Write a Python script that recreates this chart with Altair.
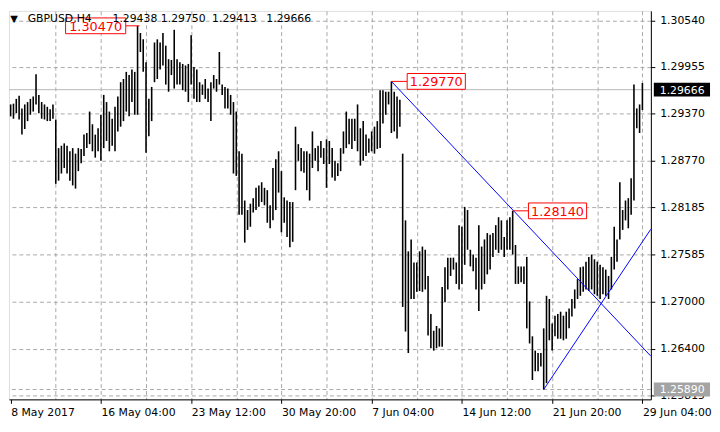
import altair as alt
import pandas as pd

# ---------------- data ----------------
highs = [
    1.2948, 1.2949, 1.2955, 1.2959, 1.2943, 1.2948, 1.2951, 1.2955, 1.2958, 1.2986, 1.2960, 1.2951, 1.2948, 1.2945, 1.2942, 1.2948,
    1.2929, 1.2893, 1.2896, 1.2899, 1.2896, 1.2889, 1.2893, 1.2886, 1.2893, 1.2892, 1.2910, 1.2912, 1.2939, 1.2923, 1.2910, 1.2918,
    1.2935, 1.2960, 1.2951, 1.2939, 1.2930, 1.2945, 1.2958, 1.2976, 1.2980, 1.2989, 1.2985, 1.2992, 1.2989, 1.3047, 1.3038, 1.3030,
    1.3001, 1.2955, 1.2970, 1.3026, 1.3030, 1.3026, 1.3038, 1.3022, 1.3005, 1.3004, 1.3042, 1.3005, 1.3001, 1.2999, 1.2997, 1.2999,
    1.3035, 1.2995, 1.2992, 1.2976, 1.2973, 1.2980, 1.2968, 1.2976, 1.2985, 1.2980, 1.3014, 1.2973, 1.2970, 1.2968, 1.2960, 1.2951,
    1.2939, 1.2889, 1.2886, 1.2827, 1.2815, 1.2823, 1.2830, 1.2843, 1.2846, 1.2850, 1.2843, 1.2840, 1.2821, 1.2868, 1.2879, 1.2889,
    1.2864, 1.2831, 1.2827, 1.2825, 1.2825, 1.2920, 1.2898, 1.2893, 1.2889, 1.2889, 1.2886, 1.2914, 1.2893, 1.2896, 1.2902, 1.2893,
    1.2904, 1.2902, 1.2893, 1.2877, 1.2874, 1.2893, 1.2914, 1.2939, 1.2930, 1.2930, 1.2930, 1.2948, 1.2918, 1.2927, 1.2910, 1.2905,
    1.2914, 1.2920, 1.2927, 1.2966, 1.2966, 1.2964, 1.2964, 1.2977, 1.2964, 1.2958, 1.2954, 1.2886, 1.2802, 1.2763, 1.2778, 1.2749,
    1.2749, 1.2763, 1.2769, 1.2765, 1.2732, 1.2684, 1.2663, 1.2669, 1.2666, 1.2718, 1.2743, 1.2755, 1.2755, 1.2755, 1.2749, 1.2796,
    1.2794, 1.2819, 1.2815, 1.2765, 1.2759, 1.2755, 1.2796, 1.2769, 1.2778, 1.2786, 1.2784, 1.2786, 1.2796, 1.2806, 1.2802, 1.2781,
    1.2802, 1.2806, 1.2814, 1.2771, 1.2744, 1.2744, 1.2744, 1.2756, 1.2700, 1.2656, 1.2638, 1.2635, 1.2635, 1.2666, 1.2707, 1.2703,
    1.2672, 1.2682, 1.2684, 1.2687, 1.2682, 1.2687, 1.2691, 1.2703, 1.2715, 1.2728, 1.2743, 1.2744, 1.2750, 1.2756, 1.2759, 1.2753,
    1.2750, 1.2746, 1.2743, 1.2740, 1.2732, 1.2756, 1.2794, 1.2778, 1.2850, 1.2815, 1.2827, 1.2830, 1.2855, 1.2973, 1.2943, 1.2948, 1.2975,
]
lows = [
    1.2933, 1.2930, 1.2937, 1.2929, 1.2910, 1.2917, 1.2927, 1.2935, 1.2939, 1.2948, 1.2937, 1.2930, 1.2929, 1.2927, 1.2927, 1.2930,
    1.2848, 1.2852, 1.2861, 1.2868, 1.2861, 1.2852, 1.2846, 1.2842, 1.2864, 1.2874, 1.2883, 1.2893, 1.2898, 1.2889, 1.2881, 1.2889,
    1.2877, 1.2893, 1.2902, 1.2889, 1.2896, 1.2889, 1.2914, 1.2920, 1.2927, 1.2939, 1.2933, 1.2951, 1.2935, 1.2935, 1.3014, 1.2989,
    1.2887, 1.2908, 1.2927, 1.2976, 1.2980, 1.2992, 1.2997, 1.2973, 1.2964, 1.2985, 1.2968, 1.2973, 1.2973, 1.2966, 1.2964, 1.2951,
    1.2973, 1.2955, 1.2951, 1.2951, 1.2960, 1.2955, 1.2951, 1.2927, 1.2968, 1.2964, 1.2973, 1.2960, 1.2943, 1.2943, 1.2935, 1.2861,
    1.2858, 1.2809, 1.2809, 1.2774, 1.2790, 1.2794, 1.2812, 1.2815, 1.2819, 1.2825, 1.2821, 1.2799, 1.2792, 1.2802, 1.2815, 1.2837,
    1.2787, 1.2799, 1.2781, 1.2768, 1.2775, 1.2840, 1.2877, 1.2864, 1.2862, 1.2840, 1.2827, 1.2868, 1.2877, 1.2864, 1.2881, 1.2873,
    1.2843, 1.2873, 1.2856, 1.2852, 1.2858, 1.2864, 1.2886, 1.2893, 1.2898, 1.2892, 1.2902, 1.2889, 1.2871, 1.2877, 1.2883, 1.2887,
    1.2889, 1.2886, 1.2892, 1.2893, 1.2924, 1.2935, 1.2948, 1.2912, 1.2914, 1.2905, 1.2920, 1.2693, 1.2662, 1.2635, 1.2703, 1.2703,
    1.2712, 1.2713, 1.2712, 1.2715, 1.2657, 1.2641, 1.2638, 1.2641, 1.2643, 1.2643, 1.2699, 1.2715, 1.2732, 1.2740, 1.2722, 1.2715,
    1.2722, 1.2746, 1.2765, 1.2744, 1.2738, 1.2715, 1.2688, 1.2715, 1.2722, 1.2734, 1.2740, 1.2756, 1.2765, 1.2761, 1.2765, 1.2756,
    1.2765, 1.2765, 1.2759, 1.2722, 1.2722, 1.2724, 1.2722, 1.2666, 1.2647, 1.2601, 1.2612, 1.2612, 1.2618, 1.2589, 1.2597, 1.2651,
    1.2638, 1.2656, 1.2653, 1.2653, 1.2651, 1.2653, 1.2666, 1.2681, 1.2691, 1.2703, 1.2707, 1.2712, 1.2715, 1.2713, 1.2715, 1.2709,
    1.2707, 1.2703, 1.2709, 1.2707, 1.2703, 1.2715, 1.2740, 1.2750, 1.2778, 1.2790, 1.2802, 1.2792, 1.2809, 1.2827, 1.2918, 1.2912, 1.2941,
]
bar_index = list(range(len(highs)))

y_ticks = [1.30540, 1.29955, 1.29370, 1.28770, 1.28185, 1.27585, 1.27000, 1.26400, 1.25815]
x_grid_pos = [0, 16, 32, 48, 64, 80, 96, 112, 128, 144, 160, 176, 192, 208, 224]
x_label_pos = [0, 32, 64, 96, 128, 160, 192, 224]
x_label_text = ["8 May 2017", "16 May 04:00", "23 May 12:00", "30 May 20:00",
                "7 Jun 04:00", "14 Jun 12:00", "21 Jun 20:00", "29 Jun 04:00"]

# header: symbol and O/H/L/C of the last bar
header_parts = ["GBPUSD,H4", "1.29438", "1.29750", "1.29413", "1.29666"]
header_x = [19, 105, 154, 206, 261]
bid_price = 1.29666
low_level = 1.25890

# trend lines (anchor bar, price) -> (right edge bar, price)
trend_x1 = [135, 189]
trend_p1 = [1.29770, 1.25890]
trend_x2 = [227.0, 227.0]
trend_p2 = [1.2631, 1.2791]

# red price annotations
ann_bar = [45, 135, 178]
ann_price = [1.30470, 1.29770, 1.28140]
ann_text = ["1.30470", "1.29770", "1.28140"]
ann_side = ["left", "right", "right"]

# right-edge price tags
tag_price = [1.29666, 1.25890]
tag_text = ["1.29666", "1.25890"]
tag_fill = ["#000000", "#a4a4a4"]

# ---------------- chart ----------------
FONT = "DejaVu Sans"
GRID = "#a8a8a8"
W, H = 651, 394

xs = alt.Scale(domain=[-0.59, 227.0], nice=False, zero=False)
ys = alt.Scale(domain=[1.25766, 1.30658], nice=False, zero=False)

label_expr = " : ".join(
    f"datum.value === {p} ? '{t}'" for p, t in zip(x_label_pos, x_label_text)
) + " : ''"
label_test = " || ".join(f"datum.value === {p}" for p in x_label_pos)

xax = alt.Axis(
    values=x_grid_pos, labelExpr=label_expr, title=None,
    labelAlign="left", labelBaseline="top", labelPadding=3,
    labelFont=FONT, labelFontSize=11, labelColor="black",
    labelOverlap=False, labelFlush=False, labelBound=False,
    tickSize=4, tickColor="black",
    tickOpacity={"condition": {"test": label_test, "value": 1}, "value": 0},
    domainColor="black",
    grid=True, gridColor=GRID, gridDash=[4, 3],
    gridOpacity={"condition": {"test": "datum.value === 0", "value": 0}, "value": 1},
)
yax = alt.Axis(
    orient="right", values=y_ticks, format=".5f", title=None,
    labelFont=FONT, labelFontSize=11, labelColor="black", labelPadding=5,
    labelOverlap=False, labelFlush=False,
    tickSize=4, tickColor="black", domainColor="black",
    grid=True, gridColor=GRID, gridDash=[4, 3],
)

bars_df = pd.DataFrame({"i": bar_index, "high": highs, "low": lows})
bars = alt.Chart(bars_df).mark_rule(color="black", strokeWidth=1.6).encode(
    x=alt.X("i:Q", scale=xs, axis=xax),
    y=alt.Y("low:Q", scale=ys, axis=yax),
    y2="high:Q",
)

lvl_df = pd.DataFrame({"p": [bid_price], "q": [low_level]})
bid_line = alt.Chart(lvl_df).mark_rule(color="#b8b8b8", strokeWidth=1).encode(
    y=alt.Y("p:Q", scale=ys, axis=yax)
)
low_line = alt.Chart(lvl_df).mark_rule(color=GRID, strokeWidth=1, strokeDash=[4, 3]).encode(
    y=alt.Y("q:Q", scale=ys, axis=yax)
)

tr_df = pd.DataFrame({"x1": trend_x1, "p1": trend_p1, "x2": trend_x2, "p2": trend_p2})
trends = alt.Chart(tr_df).mark_rule(color="#0000ff", strokeWidth=1, clip=True).encode(
    x=alt.X("x1:Q", scale=xs, axis=xax), x2="x2:Q",
    y=alt.Y("p1:Q", scale=ys, axis=yax), y2="p2:Q",
)

ann_df = pd.DataFrame({"i": ann_bar, "p": ann_price, "t": ann_text, "side": ann_side})


def ann_layers(df, box_off, box_w, line_off, line_len):
    enc = dict(
        x=alt.X("i:Q", scale=xs, axis=xax), x2="i:Q",
        y=alt.Y("p:Q", scale=ys, axis=yax), y2="p:Q",
    )
    box = alt.Chart(df).mark_rect(
        fill="white", stroke="#ff0000", strokeWidth=1,
        xOffset=box_off, x2Offset=box_off + box_w, yOffset=-8, y2Offset=8,
    ).encode(**enc)
    conn = alt.Chart(df).mark_rule(
        color="#ff0000", strokeWidth=1, xOffset=line_off, x2Offset=line_off + line_len,
    ).encode(
        x=alt.X("i:Q", scale=xs, axis=xax), x2="i:Q",
        y=alt.Y("p:Q", scale=ys, axis=yax),
    )
    txt = alt.Chart(df).mark_text(
        font=FONT, fontSize=13, color="#ff0000", align="center", baseline="middle",
        dx=box_off + box_w / 2, dy=1,
    ).encode(
        x=alt.X("i:Q", scale=xs, axis=xax),
        y=alt.Y("p:Q", scale=ys, axis=yax),
        text="t:N",
    )
    return [conn, box, txt]


left_df = ann_df[ann_df["side"] == "left"]
right_df = ann_df[ann_df["side"] == "right"]
ann = ann_layers(left_df, -73, 61, -12, 14) + ann_layers(right_df, 16, 59, 0, 16)

tag_df = pd.DataFrame({"p": tag_price, "t": tag_text, "f": tag_fill})
tag_box = alt.Chart(tag_df).mark_rect(yOffset=-7, y2Offset=7).encode(
    x=alt.value(W + 3), x2=alt.value(W + 60),
    y=alt.Y("p:Q", scale=ys, axis=yax), y2="p:Q",
    fill=alt.Fill("f:N", scale=None),
)
tag_txt = alt.Chart(tag_df).mark_text(
    font=FONT, fontSize=11, color="white", align="left", baseline="middle", dy=1,
).encode(
    x=alt.value(W + 9),
    y=alt.Y("p:Q", scale=ys, axis=yax),
    text="t:N",
)

head_layers = []
for hx, ht in zip(header_x, header_parts):
    head_layers.append(
        alt.Chart(pd.DataFrame({"t": [ht]})).mark_text(
            font=FONT, fontSize=11, color="black", align="left", baseline="middle",
        ).encode(x=alt.value(hx), y=alt.value(8), text="t:N")
    )
tri = alt.Chart(pd.DataFrame({"m": ["\u25bc"]})).mark_text(
    font=FONT, fontSize=10, color="black", align="center", baseline="middle",
).encode(x=alt.value(5), y=alt.value(8), text="m:N")

chart = alt.layer(
    bid_line, low_line, bars, trends, *ann, tag_box, tag_txt, *head_layers, tri
).properties(
    width=W, height=H,
    padding={"left": 0, "top": 0, "right": 0, "bottom": 0},
).configure_view(
    stroke="black", strokeWidth=1,
).configure(background="white")

chart.save("out.html", embed_options={"renderer": "svg", "actions": False})
